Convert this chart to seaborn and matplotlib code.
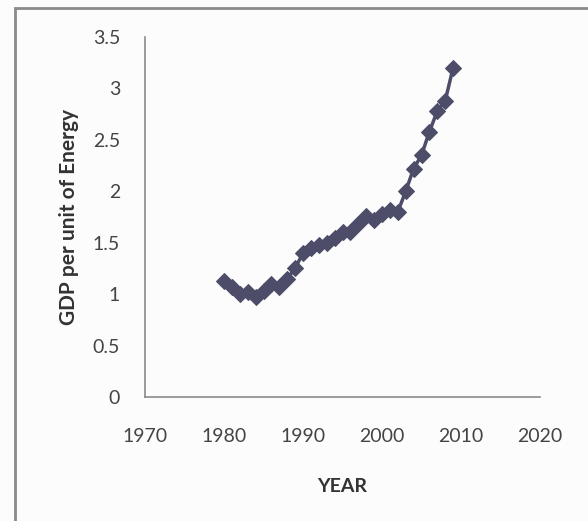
import matplotlib
matplotlib.use("Agg")
import matplotlib.pyplot as plt
import seaborn as sns
import pandas as pd
from matplotlib.patches import Rectangle

# values
years = list(range(1980, 2010))
gdp_per_energy = [1.13, 1.07, 1.00, 1.02, 0.97, 1.03, 1.10, 1.07, 1.15, 1.25,
                  1.40, 1.45, 1.48, 1.50, 1.55, 1.60, 1.60, 1.68, 1.76, 1.72,
                  1.78, 1.82, 1.80, 2.00, 2.22, 2.35, 2.58, 2.78, 2.88, 3.20]
x_ticks = [1970, 1980, 1990, 2000, 2010, 2020]
y_ticks = [0, 0.5, 1, 1.5, 2, 2.5, 3, 3.5]
y_labels = ["0", "0.5", "1", "1.5", "2", "2.5", "3", "3.5"]

df = pd.DataFrame({"YEAR": years, "GDP": gdp_per_energy})

sns.set_style("white")
plt.rcParams["font.family"] = ["Lato", "DejaVu Sans"]

fig = plt.figure(figsize=(5.88, 5.21), dpi=100)
fig.patch.set_facecolor("#fbfcfb")
fig.patches.append(Rectangle((15 / 588, -0.05), 1.0, 1 - 8 / 521 + 0.05,
                             transform=fig.transFigure, fill=False,
                             edgecolor="#8a8a8a", linewidth=2))

ax = fig.add_axes([145 / 588, 1 - 397 / 521, 395 / 588, 360 / 521])
ax.set_facecolor("#fbfcfb")
color = "#4d4d6a"
sns.lineplot(data=df, x="YEAR", y="GDP", ax=ax, color=color, linewidth=2.5,
             marker="D", markersize=8, markeredgecolor=color)

ax.set_xlim(1970, 2020)
ax.set_ylim(0, 3.5)
ax.set_xticks(x_ticks)
ax.set_yticks(y_ticks)
ax.set_yticklabels(y_labels)
ax.tick_params(axis="both", labelsize=14, colors="#9a9a9a", labelcolor="#444444",
               direction="out", length=4, width=1)
ax.tick_params(axis="x", pad=18)
ax.tick_params(axis="y", pad=14)
for s in ["top", "right"]:
    ax.spines[s].set_visible(False)
for s in ["left", "bottom"]:
    ax.spines[s].set_color("#8a8a8a")
    ax.spines[s].set_linewidth(1.2)

ax.set_xlabel("YEAR", fontsize=14, fontweight="bold", color="#333333", labelpad=24)
ax.set_ylabel("GDP per unit of Energy", fontsize=15, fontweight="bold",
              color="#333333", labelpad=10)

fig.savefig("out.png", dpi=100, facecolor=fig.get_facecolor())
